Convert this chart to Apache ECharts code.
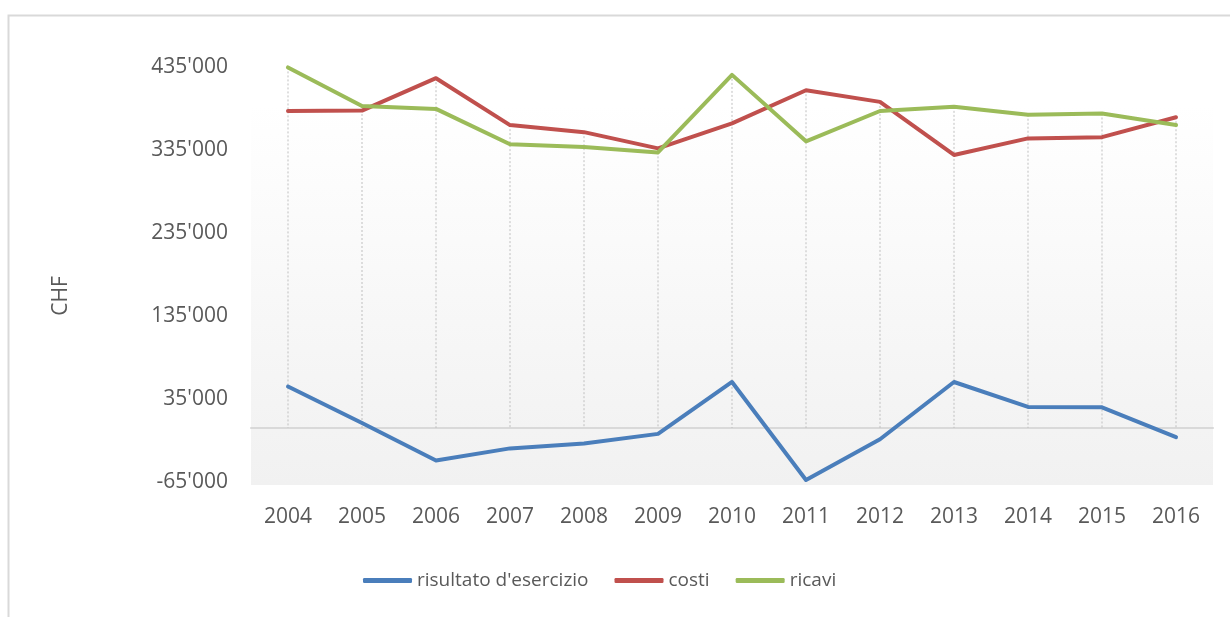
<!DOCTYPE html>
<html>
<head>
<meta charset="utf-8">
<title>risultato d'esercizio, costi, ricavi</title>
<script src="https://cdn.jsdelivr.net/npm/echarts@6/dist/echarts.min.js"></script>
<style>
  html, body { margin: 0; padding: 0; background: #fff; }
  #chart { width: 1230px; height: 617px; }
</style>
</head>
<body>
<div id="chart"></div>
<script>
// anni
const years = ['2004', '2005', '2006', '2007', '2008', '2009', '2010', '2011', '2012', '2013', '2014', '2015', '2016']
// valori in CHF
const risultato = [50000, 6000, -39000, -24500, -18500, -7000, 55500, -62500, -13500, 55500, 25500, 25000, -11000]
const costi = [382000, 382500, 421500, 365000, 356500, 337000, 367000, 407000, 393000, 329000, 349000, 350500, 374500]
const ricavi = [434500, 388000, 384500, 342000, 338500, 332000, 425500, 345500, 382000, 387000, 377500, 379000, 365000]
// assi
const yMin = -65000
const yMax = 435000
const yStep = 100000

const textColor = '#595959'
const font = '"Open Sans", "Noto Sans", sans-serif'

// formato 435'000
function fmt(v) {
  const s = String(Math.abs(v)).replace(/\B(?=(\d{3})+(?!\d))/g, "'")
  return (v < 0 ? '-' : '') + s
}

// linee verticali dal valore massimo fino allo zero
const dropTop = years.map((y, i) => [i, Math.max(risultato[i], costi[i], ricavi[i])])

const lineSeries = (name, data, color) => ({
  name: name,
  type: 'line',
  data: data,
  symbol: 'none',
  lineStyle: { color: color, width: 4, cap: 'round', join: 'round' },
  itemStyle: { color: color },
  z: 3
})

const option = {
  animation: false,
  textStyle: { fontFamily: font },
  graphic: [
    {
      type: 'rect',
      z: -10,
      silent: true,
      shape: { x: 8.5, y: 15.5, width: 1240, height: 640 },
      style: { fill: 'none', stroke: '#d9d9d9', lineWidth: 2 }
    },
    {
      type: 'rect',
      z: -9,
      silent: true,
      shape: { x: 251, y: 105, width: 962, height: 380 },
      style: {
        fill: new echarts.graphic.LinearGradient(0, 0, 0, 1, [
          { offset: 0, color: '#ffffff' },
          { offset: 1, color: '#f1f1f1' }
        ])
      }
    },
    {
      type: 'text',
      x: 61,
      y: 296,
      rotation: Math.PI / 2,
      style: {
        text: 'CHF',
        fill: textColor,
        font: '21px ' + font,
        align: 'center',
        verticalAlign: 'middle'
      }
    }
  ],
  grid: { left: 251, right: 17, top: 67, bottom: 135 },
  legend: {
    left: 358,
    top: 566,
    itemWidth: 49,
    itemHeight: 5,
    itemGap: 26,
    icon: 'roundRect',
    textStyle: { color: textColor, fontSize: 19, fontFamily: font },
    data: ["risultato d'esercizio", 'costi', 'ricavi']
  },
  xAxis: [
    {
      type: 'category',
      data: years,
      boundaryGap: true,
      axisLine: { onZero: true, lineStyle: { color: '#d9d9d9', width: 2 } },
      axisTick: { show: false },
      axisLabel: { show: false },
      splitLine: { show: false }
    },
    {
      type: 'category',
      data: years,
      position: 'bottom',
      boundaryGap: true,
      axisLine: { show: false, onZero: false },
      axisTick: { show: false },
      axisLabel: { color: textColor, fontSize: 21, margin: 25, fontFamily: font },
      splitLine: { show: false }
    }
  ],
  yAxis: {
    type: 'value',
    min: yMin,
    max: yMax,
    interval: yStep,
    axisLine: { show: false },
    axisTick: { show: false },
    splitLine: { show: false },
    axisLabel: {
      color: textColor,
      fontSize: 21,
      margin: 23,
      padding: [4, 0, 0, 0],
      fontFamily: font,
      formatter: fmt
    }
  },
  series: [
    {
      name: 'drop',
      type: 'custom',
      silent: true,
      z: 1,
      data: dropTop,
      renderItem: (params, api) => {
        const top = api.coord([api.value(0), api.value(1)])
        const bot = api.coord([api.value(0), 0])
        return {
          type: 'line',
          shape: { x1: top[0], y1: top[1], x2: bot[0], y2: bot[1] },
          style: { stroke: '#bfbfbf', lineWidth: 1, lineDash: [2, 2] }
        }
      }
    },
    lineSeries("risultato d'esercizio", risultato, '#4a7ebb'),
    lineSeries('costi', costi, '#c0504d'),
    lineSeries('ricavi', ricavi, '#9bbb59')
  ]
}

const myChart = echarts.init(document.getElementById('chart'))
myChart.setOption(option)
</script>
</body>
</html>
